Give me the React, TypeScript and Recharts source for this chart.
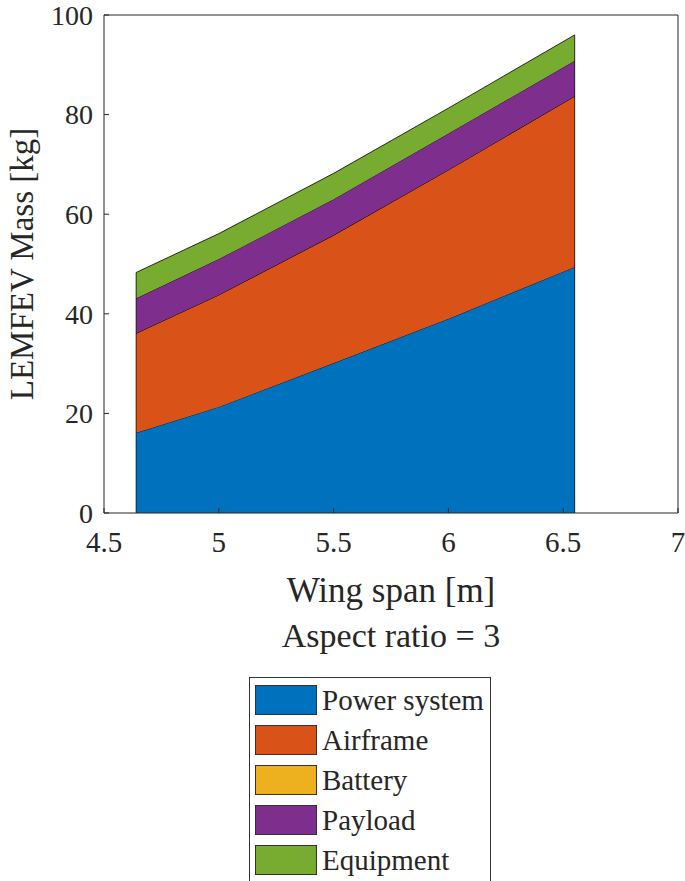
import { AreaChart, Area, XAxis, YAxis, ReferenceLine } from "recharts";

// wing span [m] and stacked mass components [kg]
const spans = [4.64, 5.0, 5.5, 6.0, 6.55];
const powerSystem = [16.1, 21.3, 30.1, 39.0, 49.4];
const airframe = [20.0, 22.5, 25.7, 29.9, 34.3];
const battery = [0, 0, 0, 0, 0];
const payload = [7.0, 7.2, 7.2, 7.3, 7.1];
const equipment = [5.2, 5.1, 5.2, 5.1, 5.2];

const xTicks = [4.5, 5, 5.5, 6, 6.5, 7];
const yTicks = [0, 20, 40, 60, 80, 100];

const seriesNames = ["Power system", "Airframe", "Battery", "Payload", "Equipment"];
const seriesKeys = ["power", "airframe", "battery", "payload", "equipment"];
const seriesColors = ["#0072BD", "#D95319", "#EDB120", "#7E2F8E", "#77AC30"];

const FONT = "Liberation Serif";
const INK = "#262626";

const data = spans.map((s, i) => ({
  span: s,
  power: powerSystem[i],
  airframe: airframe[i],
  battery: battery[i],
  payload: payload[i],
  equipment: equipment[i],
}));

const totals = spans.map(
  (_, i) => powerSystem[i] + airframe[i] + battery[i] + payload[i] + equipment[i]
);
const last = spans.length - 1;

// eslint-disable-next-line @typescript-eslint/no-explicit-any
type Any = any;

function XTick(p: Any) {
  return (
    <text x={p.x} y={p.y} dy="0.71em" textAnchor="middle" fontSize={29} fontFamily={FONT} fill={INK}>
      {String(p.payload.value)}
    </text>
  );
}

function YTick(p: Any) {
  return (
    <text x={p.x} y={p.y} dy="0.35em" textAnchor="end" fontSize={28} fontFamily={FONT} fill={INK}>
      {String(p.payload.value)}
    </text>
  );
}

function XLabel(props: Any) {
  const vb = props.viewBox;
  const cx = vb.x + vb.width / 2;
  return (
    <g fontFamily={FONT} fill={INK}>
      <text x={cx} y={602} textAnchor="middle" fontSize={35} fill={INK}>
        Wing span [m]
      </text>
      <text x={cx} y={647} textAnchor="middle" fontSize={34} fill={INK}>
        Aspect ratio = 3
      </text>
    </g>
  );
}

function YLabel() {
  return (
    <text
      x={22}
      y={264}
      transform="rotate(-90, 22, 264)"
      textAnchor="middle"
      dominantBaseline="central"
      fontSize={33}
      fontFamily={FONT}
      fill={INK}
    >
      LEMFEV Mass [kg]
    </text>
  );
}

export default function App() {
  return (
    <div
      style={{
        position: "absolute",
        left: 0,
        top: 0,
        width: 685,
        height: 881,
        background: "#fff",
        fontFamily: FONT,
      }}
    >
      <AreaChart
        width={685}
        height={660}
        data={data}
        margin={{ top: 15, right: 7, bottom: 0, left: 0 }}
      >
        <XAxis
          dataKey="span"
          type="number"
          domain={[4.5, 7]}
          ticks={xTicks}
          allowDataOverflow
          height={147}
          stroke={INK}
          tickSize={-5}
          tickMargin={23}
          tick={<XTick />}
          label={<XLabel />}
        />
        <XAxis
          xAxisId="top"
          orientation="top"
          type="number"
          domain={[4.5, 7]}
          ticks={xTicks}
          allowDataOverflow
          height={1}
          mirror
          stroke={INK}
          tickSize={5}
          tickFormatter={() => ""}
        />
        <YAxis
          type="number"
          domain={[0, 100]}
          ticks={yTicks}
          width={104}
          stroke={INK}
          tickSize={-5}
          tickMargin={16}
          tick={<YTick />}
          label={<YLabel />}
        />
        <YAxis
          yAxisId="right"
          orientation="right"
          type="number"
          domain={[0, 100]}
          ticks={yTicks}
          width={1}
          mirror
          stroke={INK}
          tickSize={5}
          tickFormatter={() => ""}
        />
        {seriesKeys.map((k, i) => (
          <Area
            key={k}
            type="linear"
            dataKey={k}
            name={seriesNames[i]}
            stackId="m"
            fill={seriesColors[i]}
            fillOpacity={1}
            stroke="#000"
            strokeWidth={0.8}
            isAnimationActive={false}
          />
        ))}
        <ReferenceLine
          segment={[{ x: spans[0], y: 0 }, { x: spans[0], y: totals[0] }]}
          stroke="#000"
          strokeWidth={0.8}
        />
        <ReferenceLine
          segment={[{ x: spans[last], y: 0 }, { x: spans[last], y: totals[last] }]}
          stroke="#000"
          strokeWidth={0.8}
        />
      </AreaChart>

      <div
        style={{
          position: "absolute",
          left: 249,
          top: 677,
          width: 242,
          height: 210,
          border: "1px solid #333",
          boxSizing: "border-box",
          background: "#fff",
          color: INK,
        }}
      >
        {seriesNames.map((n, i) => (
          <div
            key={n}
            style={{ position: "absolute", left: 5, top: 7 + i * 40, height: 30, display: "flex", alignItems: "center" }}
          >
            <div
              style={{
                width: 62,
                height: 30,
                background: seriesColors[i],
                border: "1px solid #333",
                boxSizing: "border-box",
              }}
            />
            <span style={{ marginLeft: 5, fontSize: 29, lineHeight: "30px", whiteSpace: "nowrap" }}>{n}</span>
          </div>
        ))}
      </div>
    </div>
  );
}
